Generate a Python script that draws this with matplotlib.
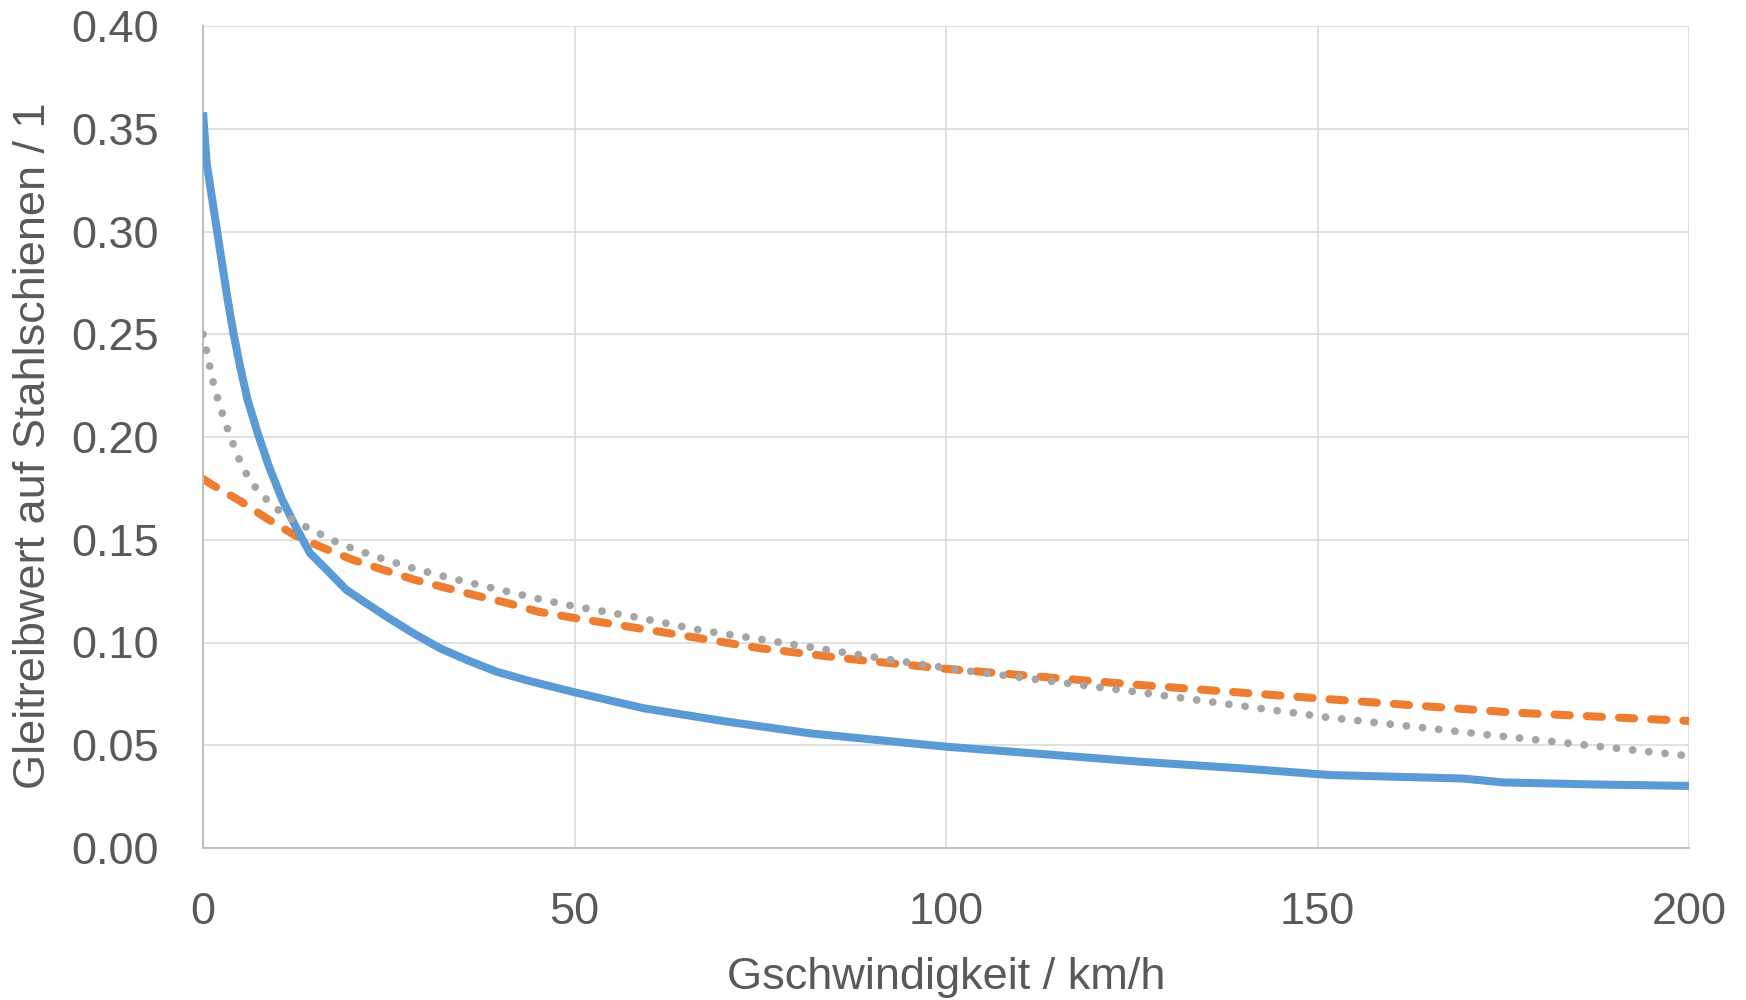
import matplotlib
matplotlib.use("Agg")
import matplotlib.pyplot as plt

# --- data ---
v_blue = [0, 0.5, 1.93, 3.32, 4.08, 4.98, 6.0, 7.36, 8.88, 10.67, 12.6, 14.4, 16.2,
          19.3, 21.6, 24.7, 28.3, 31.9, 35.5, 39.5, 44.0, 47.0, 50, 59.3, 70.5, 81.7,
          92.9, 100, 112.7, 126.1, 139.6, 151.7, 169.6, 175, 187.6, 200]
mu_blue = [0.358, 0.333, 0.2994, 0.2668, 0.2508, 0.2345, 0.2181, 0.2019, 0.1856,
           0.1694, 0.1555, 0.1435, 0.137, 0.1256, 0.120, 0.1126, 0.1045, 0.0972,
           0.0915, 0.0858, 0.0812, 0.0785, 0.0758, 0.068, 0.0615, 0.0558, 0.0518,
           0.0493, 0.0458, 0.042, 0.0388, 0.0355, 0.0338, 0.0319, 0.0309, 0.0302]

v_orange = [0, 1.26, 4.98, 8.57, 12.25, 16.2, 20.2, 24.3, 28.5, 32.6, 36.8, 41.1,
            45.1, 49.4, 60.2, 75, 87.5, 100, 125.8, 151.6, 176.3, 200]
mu_orange = [0.1796, 0.1767, 0.1689, 0.1604, 0.1524, 0.146, 0.1402, 0.1353, 0.1305,
             0.1267, 0.1228, 0.1191, 0.115, 0.1123, 0.106, 0.0972, 0.0918, 0.0872,
             0.0794, 0.0724, 0.0659, 0.0618]

v_grey = [0, 0.49, 0.94, 1.39, 1.98, 2.65, 3.37, 4.13, 4.94, 5.92, 7.13, 8.61, 10.27,
          12.07, 14.04, 16.0, 18.0, 20.0, 24.2, 28.3, 32.6, 36.8, 41.1, 45.4, 49.7,
          57.9, 66.9, 75.5, 84.1, 92.7, 101.4, 125.3, 151.3, 173.2, 200]
mu_grey = [0.25, 0.2416, 0.2338, 0.2262, 0.2186, 0.2109, 0.2033, 0.1958, 0.1885,
           0.1815, 0.1751, 0.1694, 0.1641, 0.1597, 0.1559, 0.1524, 0.1488, 0.1459,
           0.1407, 0.1361, 0.132, 0.1283, 0.1247, 0.121, 0.1178, 0.1126, 0.106,
           0.1013, 0.0964, 0.0915, 0.0869, 0.0761, 0.0636, 0.055, 0.0448]

x_ticks = [0, 50, 100, 150, 200]
y_ticks = [0.00, 0.05, 0.10, 0.15, 0.20, 0.25, 0.30, 0.35, 0.40]
x_label = "Gschwindigkeit / km/h"
y_label = "Gleitreibwert auf Stahlschienen / 1"

# --- style ---
plt.rcParams['font.family'] = ['Liberation Sans', 'DejaVu Sans']
text_color = "#595959"

fig = plt.figure(figsize=(17.46, 10.0), dpi=100)
ax = fig.add_axes([203 / 1746, 1 - 848 / 1000, 1486 / 1746, 822 / 1000])

ax.plot(v_orange, mu_orange, color="#ED7D31", lw=5.8, linestyle=(0, (1.9, 2.1)),
        dash_capstyle="round", zorder=2)
ax.plot(v_blue, mu_blue, color="#5B9BD5", lw=5.8, solid_capstyle="butt",
        solid_joinstyle="round", zorder=3)
ax.plot(v_grey, mu_grey, color="#A5A5A5", lw=5.6, linestyle=(0, (0.01, 2.08)),
        dash_capstyle="round", zorder=4)

ax.set_xlim(0, 200)
ax.set_ylim(0, 0.40)
ax.set_xticks(x_ticks)
ax.set_yticks(y_ticks)
ax.set_yticklabels([f"{t:.2f}" for t in y_ticks])

ax.grid(True, color="#D9D9D9", lw=1.1, zorder=0)
ax.set_axisbelow(True)
for s in ("top", "right"):
    ax.spines[s].set_visible(False)
for s in ("left", "bottom"):
    ax.spines[s].set_color("#BFBFBF")
    ax.spines[s].set_linewidth(1.4)

ax.tick_params(axis="both", length=0, labelsize=32.5, colors=text_color)
ax.tick_params(axis="y", pad=32)
ax.tick_params(axis="x", pad=32)

xl = ax.set_xlabel(x_label, fontsize=32.5, color=text_color)
yl = ax.set_ylabel(y_label, fontsize=32.5, color=text_color)
ax.xaxis.set_label_coords(0.5, (848 - 977) / 822)
xl.set_va("center")
ax.yaxis.set_label_coords((34 - 203) / 1486, 0.49)
yl.set_va("center")

fig.savefig("out.png", dpi=100, facecolor="white")
